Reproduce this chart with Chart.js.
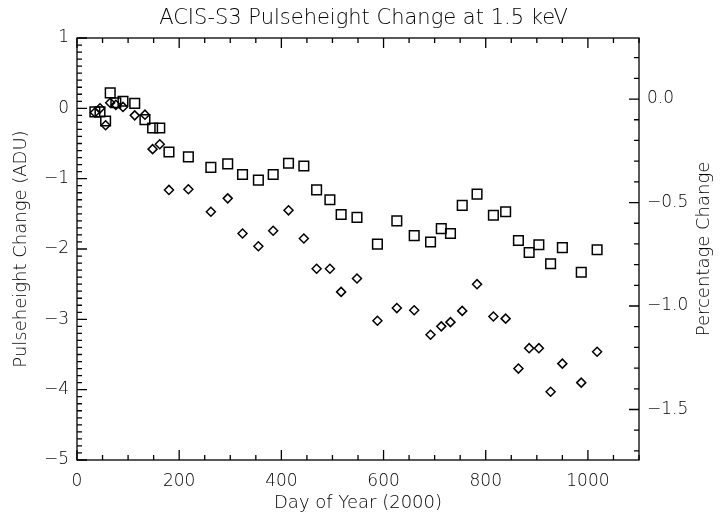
<!DOCTYPE html>
<html>
<head>
<meta charset="utf-8">
<title>ACIS-S3 Pulseheight Change at 1.5 keV</title>
<script src="https://cdn.jsdelivr.net/npm/chart.js@4.4.1/dist/chart.umd.min.js"></script>
<style>
  body { margin: 0; background: #fff; }
  canvas { display: block; }
</style>
</head>
<body>
<canvas id="ph_chart" width="727" height="517"></canvas>
<script>
// day of year (2000) for each measurement
var days = [35, 45, 56, 65, 76, 90, 113, 133, 148, 162, 180, 218, 262, 295, 324, 355, 384, 414, 444, 469,
            495, 517, 548, 588, 626, 660, 692, 713, 731, 754, 783, 815, 839, 864, 885, 904, 927, 950, 987, 1018];

// pulseheight change (ADU), square symbols
var phSquares = [-0.05, -0.05, -0.18, 0.22, 0.08, 0.10, 0.07, -0.16, -0.28, -0.28, -0.62, -0.69, -0.84, -0.79, -0.94, -1.02, -0.94, -0.78, -0.82, -1.16,
                 -1.30, -1.51, -1.55, -1.93, -1.60, -1.81, -1.90, -1.71, -1.78, -1.38, -1.22, -1.52, -1.47, -1.88, -2.05, -1.94, -2.21, -1.98, -2.33, -2.01];

// pulseheight change (ADU), diamond symbols
var phDiamonds = [-0.06, 0.00, -0.24, 0.08, 0.05, 0.02, -0.10, -0.09, -0.58, -0.51, -1.16, -1.15, -1.47, -1.28, -1.78, -1.96, -1.74, -1.45, -1.85, -2.28,
                  -2.28, -2.61, -2.42, -3.02, -2.84, -2.87, -3.22, -3.10, -3.04, -2.88, -2.50, -2.96, -2.99, -3.70, -3.41, -3.41, -4.03, -3.63, -3.90, -3.46];

// tick labels
var xTicks = [0, 200, 400, 600, 800, 1000];
var xTickLabels = ["0", "200", "400", "600", "800", "1000"];
var yTicks = [-5, -4, -3, -2, -1, 0, 1];
var yTickLabels = ["\u22125", "\u22124", "\u22123", "\u22122", "\u22121", "0", "1"];
var pctTicks = [-1.5, -1.0, -0.5, 0.0];
var pctTickLabels = ["\u22121.5", "\u22121.0", "\u22120.5", "0.0"];

var FONT = "'DejaVu Sans', 'Liberation Sans', sans-serif";
var WEIGHT = "200";

//funzione per disegnare cornice, tacche interne e titolo destro
var frameTicks = {
  id: "frameTicks",
  afterDraw: function(chart) {
    var ctx = chart.ctx;
    var a = chart.chartArea;
    var sx = chart.scales.x, sy = chart.scales.y, sp = chart.scales.y2;
    var i, p, len;

    ctx.save();
    ctx.strokeStyle = "#000";
    ctx.lineWidth = 1.3;
    ctx.strokeRect(a.left, a.top, a.right - a.left, a.bottom - a.top);

    ctx.beginPath();
    // x: every 50 days, bottom and top
    for (i = 0; i <= 22; i++) {
      p = sx.getPixelForValue(i * 50);
      len = (i % 4 === 0) ? 10 : 5;
      ctx.moveTo(p, a.bottom); ctx.lineTo(p, a.bottom - len);
      ctx.moveTo(p, a.top); ctx.lineTo(p, a.top + len);
    }
    // left y: every 0.1 ADU
    for (i = -50; i <= 10; i++) {
      p = sy.getPixelForValue(i / 10);
      len = (i % 10 === 0) ? 10 : 5;
      ctx.moveTo(a.left, p); ctx.lineTo(a.left + len, p);
    }
    // right y: every 0.1 %
    for (i = -17; i <= 2; i++) {
      p = sp.getPixelForValue(i / 10);
      len = (i % 5 === 0) ? 10 : 5;
      ctx.moveTo(a.right, p); ctx.lineTo(a.right - len, p);
    }
    ctx.stroke();

    // titolo asse destro, letto dal basso verso l'alto
    ctx.fillStyle = "#000";
    ctx.font = WEIGHT + " 18px " + FONT;
    ctx.textAlign = "center";
    ctx.textBaseline = "middle";
    ctx.translate(704, (a.top + a.bottom) / 2);
    ctx.rotate(-Math.PI / 2);
    ctx.fillText("Percentage Change", 0, 0);
    ctx.restore();
  }
};

function setTicks(values) {
  return function(scale) {
    scale.ticks = values.map(function(v) { return { value: v }; });
  };
}

function labelFrom(values, labels) {
  return function(value) {
    var i = values.indexOf(value);
    return i >= 0 ? labels[i] : "";
  };
}

function printChart() {
  var points1 = days.map(function(d, i) { return { x: d, y: phSquares[i] }; });
  var points2 = days.map(function(d, i) { return { x: d, y: phDiamonds[i] }; });

  var tickFont = { family: FONT, size: 17, weight: WEIGHT };
  var titleFont = { family: FONT, size: 18, weight: WEIGHT };

  var ctx = document.getElementById("ph_chart");
  var chart = new Chart(ctx, {
    type: "scatter",
    data: {
      datasets: [
        {
          label: "Squares",
          data: points1,
          pointStyle: "rect",
          pointRadius: 6.8,
          pointBorderWidth: 1.5,
          borderColor: "#000",
          backgroundColor: "rgba(0,0,0,0)",
          yAxisID: "y"
        },
        {
          label: "Diamonds",
          data: points2,
          pointStyle: "rectRot",
          pointRadius: 4.5,
          pointBorderWidth: 1.5,
          borderColor: "#000",
          backgroundColor: "rgba(0,0,0,0)",
          yAxisID: "y"
        }
      ]
    },
    options: {
      responsive: false,
      animation: false,
      events: [],
      layout: { padding: 0 },
      plugins: {
        legend: { display: false },
        tooltip: { enabled: false },
        title: {
          display: true,
          text: "ACIS-S3 Pulseheight Change at 1.5 keV",
          color: "#000",
          font: { family: FONT, size: 21, weight: WEIGHT, lineHeight: 1.2 },
          padding: { top: 6, bottom: 6.8 }
        }
      },
      scales: {
        x: {
          type: "linear",
          min: 0,
          max: 1100,
          afterBuildTicks: setTicks(xTicks),
          afterFit: function(s) { s.height = 57; },
          grid: { display: false, drawTicks: false },
          border: { display: false },
          ticks: {
            color: "#000",
            padding: 11,
            maxRotation: 0,
            font: tickFont,
            callback: labelFrom(xTicks, xTickLabels)
          },
          title: {
            display: true,
            text: "Day of Year (2000)",
            color: "#000",
            font: titleFont,
            padding: { top: 0, bottom: 3 }
          }
        },
        y: {
          type: "linear",
          position: "left",
          min: -5,
          max: 1,
          afterBuildTicks: setTicks(yTicks),
          afterFit: function(s) { s.width = 77; },
          grid: { display: false, drawTicks: false },
          border: { display: false },
          ticks: {
            color: "#000",
            padding: 8,
            font: tickFont,
            callback: labelFrom(yTicks, yTickLabels)
          },
          title: {
            display: true,
            text: "Pulseheight Change (ADU)",
            color: "#000",
            font: titleFont,
            padding: { top: 11, bottom: 0 }
          }
        },
        y2: {
          type: "linear",
          position: "right",
          min: -1.744,
          max: 0.295,
          afterBuildTicks: setTicks(pctTicks),
          afterFit: function(s) { s.width = 88; },
          grid: { display: false, drawTicks: false },
          border: { display: false },
          ticks: {
            color: "#000",
            padding: 8,
            font: tickFont,
            callback: labelFrom(pctTicks, pctTickLabels)
          }
        }
      }
    },
    plugins: [frameTicks]
  });
}

printChart();
</script>
</body>
</html>
